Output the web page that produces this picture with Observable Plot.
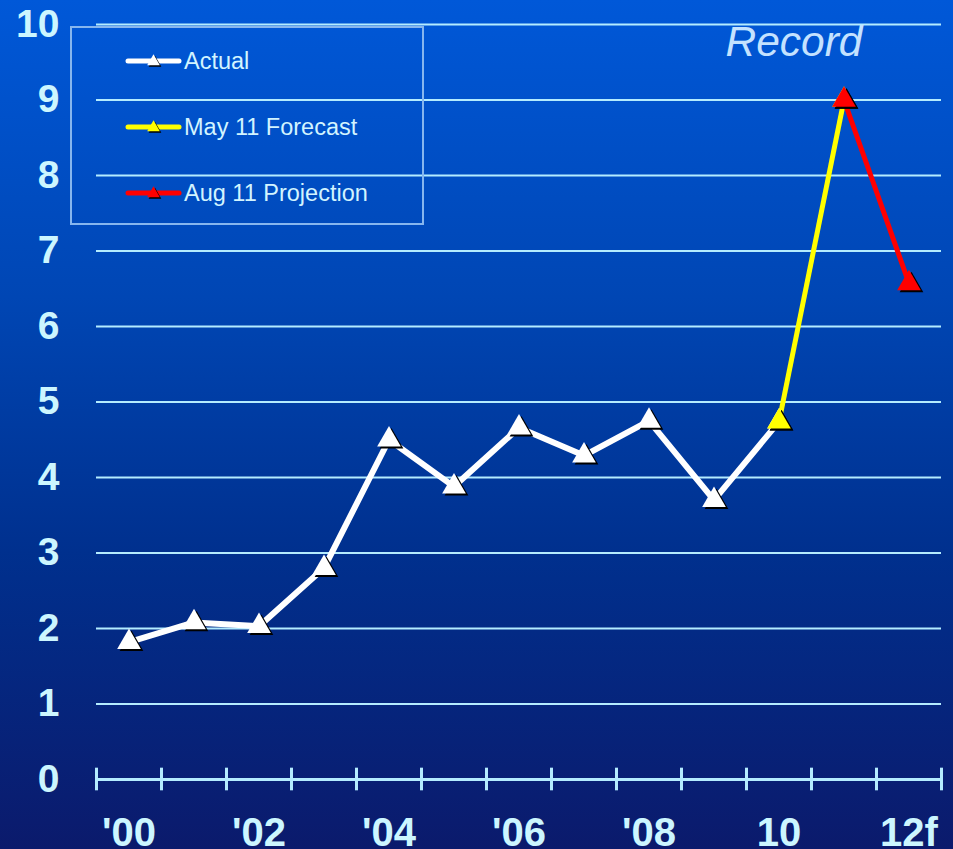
<!DOCTYPE html>
<html>
<head>
<meta charset="utf-8">
<script src="https://cdn.jsdelivr.net/npm/d3@7"></script>
<script src="https://cdn.jsdelivr.net/npm/@observablehq/plot@0.6"></script>
<style>
  html, body { margin: 0; padding: 0; }
  body {
    width: 953px; height: 849px; overflow: hidden;
    background: linear-gradient(to bottom, #0058d8 0%, #0046b4 35%, #00308e 65%, #0b1a6c 100%);
    font-family: "Liberation Sans", Arial, sans-serif;
  }
  #chart svg { display: block; }
</style>
</head>
<body>
<div id="chart"></div>
<script>
// Years on the horizontal axis
const years = [2000, 2001, 2002, 2003, 2004, 2005, 2006, 2007, 2008, 2009, 2010, 2011, 2012];

// Actual values, 2000–2010
const actualYears = [2000, 2001, 2002, 2003, 2004, 2005, 2006, 2007, 2008, 2009, 2010];
const actualValues = [1.82, 2.08, 2.03, 2.80, 4.50, 3.88, 4.66, 4.29, 4.75, 3.70, 4.74];

// May 11 forecast, 2010 → 2011
const forecastYears = [2010, 2011];
const forecastValues = [4.74, 9.0];

// Aug 11 projection, 2011 → 2012
const projectionYears = [2011, 2012];
const projectionValues = [9.0, 6.57];

// Axis labels
const yTicks = [0, 1, 2, 3, 4, 5, 6, 7, 8, 9, 10];
const xLabelYears = [2000, 2002, 2004, 2006, 2008, 2010, 2012];
const xLabels = ["'00", "'02", "'04", "'06", "'08", "10", "12f"];

const series = [
  {name: "Actual", years: actualYears, values: actualValues, color: "#ffffff", width: 6},
  {name: "May 11 Forecast", years: forecastYears, values: forecastValues, color: "#ffff00", width: 5},
  {name: "Aug 11 Projection", years: projectionYears, values: projectionValues, color: "#ff0000", width: 5}
];
const rows = s => s.years.map((y, i) => ({year: y, value: s.values[i]}));

// Category boundaries used for the x-axis tick marks
const boundaries = [...years.map(y => y - 0.5), years[years.length - 1] + 0.5];

const axisColor = "#b4ecff";
const labelColor = "#ccf6ff";
const font = "'Liberation Sans', Arial, sans-serif";

const marks = [
  // horizontal grid
  Plot.ruleY(yTicks.filter(d => d > 0), {y: d => d, stroke: axisColor, strokeWidth: 2}),
  // base axis with tick marks
  Plot.ruleY([0], {stroke: axisColor, strokeWidth: 3}),
  Plot.ruleX(boundaries, {x: d => d, y1: -0.15, y2: 0.15, stroke: axisColor, strokeWidth: 3}),
  // y labels
  Plot.text(yTicks, {
    y: d => d, text: d => String(d), frameAnchor: "left", textAnchor: "end", dx: -37,
    fontSize: 39, fontWeight: "bold", fill: labelColor, fontFamily: font
  }),
  // x labels (stretched vertically below)
  Plot.text(xLabelYears, {
    x: d => d, text: (d, i) => xLabels[i], frameAnchor: "bottom", lineAnchor: "bottom", dy: 66,
    fontSize: 40, fontWeight: "bold", fill: labelColor, fontFamily: font, ariaLabel: "x-labels"
  }),
  // lines
  ...series.map(s => Plot.line(rows(s), {
    x: "year", y: "value", stroke: s.color, strokeWidth: s.width, strokeLinejoin: "miter", strokeLinecap: "butt"
  })),
  // triangle markers with a dark drop shadow
  ...series.flatMap(s => [
    Plot.dot(rows(s), {x: "year", y: "value", symbol: "triangle", r: 8.8, fill: "#000000", dx: 2.5, dy: 2}),
    Plot.dot(rows(s), {x: "year", y: "value", symbol: "triangle", r: 8.8, fill: s.color})
  ]),
  // annotation
  Plot.text(["Record"], {
    text: d => d, frameAnchor: "top-right", textAnchor: "end", lineAnchor: "bottom", dx: -79, dy: 31,
    fontSize: 42.5, fontStyle: "italic", fill: "#c4e2ff", fontFamily: font
  })
];

const chart = Plot.plot({
  width: 953,
  height: 849,
  marginLeft: 96,
  marginRight: 12,
  marginTop: 24,
  marginBottom: 70,
  style: {background: "transparent", fontFamily: font, overflow: "visible"},
  x: {domain: [1999.5, 2012.5], axis: null},
  y: {domain: [0, 10], axis: null},
  marks
});

const svg = d3.select(chart);

// tall, narrow look for the year labels
svg.selectAll('g[aria-label="x-labels"] text').each(function () {
  const t = d3.select(this);
  t.attr("transform", (t.attr("transform") || "") + " scale(1,1.18)");
});

// Legend panel in the upper-left corner
const legend = svg.append("g").attr("font-family", font).attr("text-anchor", "start");
legend.append("rect")
  .attr("x", 71).attr("y", 27).attr("width", 352).attr("height", 197)
  .attr("fill", "none").attr("stroke", "#86b6ee").attr("stroke-width", 2);
const tri = d3.symbol(d3.symbolTriangle, 70);
series.forEach((s, i) => {
  const y = 61 + i * 66;
  const g = legend.append("g").attr("transform", `translate(0,${y})`);
  g.append("line").attr("x1", 128).attr("x2", 179).attr("y1", 0).attr("y2", 0)
    .attr("stroke", s.color).attr("stroke-width", 5).attr("stroke-linecap", "round");
  g.append("path").attr("d", tri()).attr("transform", "translate(155,2)").attr("fill", "#000");
  g.append("path").attr("d", tri()).attr("transform", "translate(153.5,0.5)").attr("fill", s.color);
  g.append("text").attr("x", 184).attr("y", 8).attr("font-size", 23.5).attr("fill", "#d2f4ff")
    .attr("text-anchor", "start").text(s.name);
});

document.getElementById("chart").appendChild(chart);
</script>
</body>
</html>
